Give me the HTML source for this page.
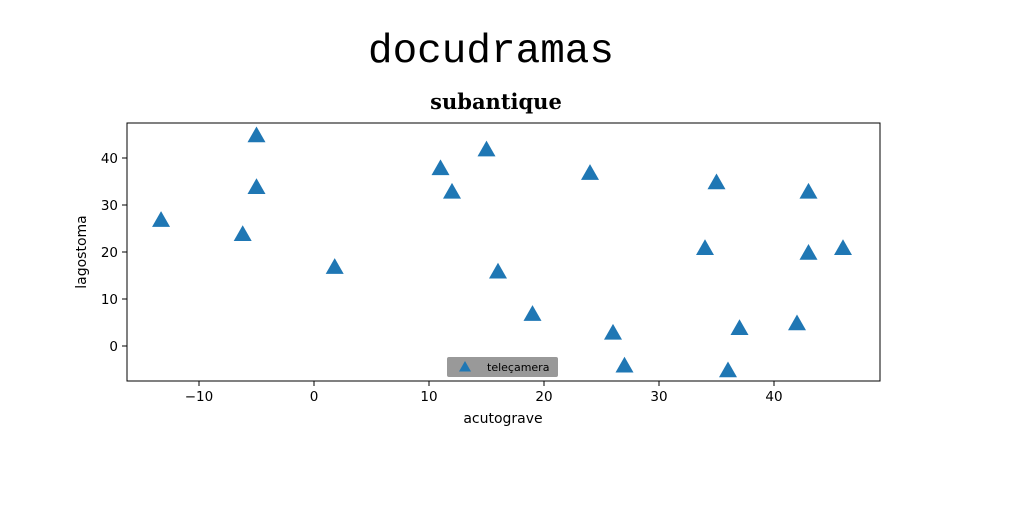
<!DOCTYPE html>
<html><head><meta charset="utf-8"><style>
body{margin:0;background:#fff;width:1024px;height:512px;overflow:hidden}
svg text{font-family:"DejaVu Sans","Liberation Sans",sans-serif}
</style></head><body>
<svg width="1024" height="512" xmlns="http://www.w3.org/2000/svg">
<text x="491" y="62" text-anchor="middle" font-size="41" style="font-family:'Liberation Mono',monospace">docudramas</text>
<text x="496" y="109" text-anchor="middle" font-size="21" font-weight="bold" style="font-family:'DejaVu Serif','Liberation Serif',serif">subantique</text>
<g id="plot"></g>
</svg>
<script>
const xs=[-13.3,-6.2,-5,-5,1.8,11,12,15,16,19,24,26,27,34,35,36,37,42,43,43,46];
const ys=[27,24,45,34,17,38,33,42,16,7,37,3,-4,21,35,-5,4,5,33,20,21];
const xTicks=[-10,0,10,20,30,40];
const yTicks=[0,10,20,30,40];
const L=127,R=880,T=123,B=381;
const xScale=v=>314+v*11.5;
const yScale=v=>346-v*4.7;
const NS="http://www.w3.org/2000/svg";
const g=document.getElementById('plot');
function mk(t,a){const e=document.createElementNS(NS,t);for(const k in a)e.setAttribute(k,a[k]);g.appendChild(e);return e;}
const frame=mk('rect',{x:L,y:T,width:R-L,height:B-T,fill:'none',stroke:'#000','stroke-width':1});


xTicks.forEach(v=>{const x=xScale(v);
 const l=mk('line',{x1:x,x2:x,y1:B,y2:B+5,stroke:'#000'});
 
 
 const t=mk('text',{x:x,y:B+20,'text-anchor':'middle','font-size':13.5});
 
 
 t.textContent=v<0?'\u2212'+(-v):v;});
yTicks.forEach(v=>{const y=yScale(v);
 const l=mk('line',{x1:L-5,x2:L,y1:y,y2:y,stroke:'#000'});
 
 
 const t=mk('text',{x:L-9,y:y+5,'text-anchor':'end','font-size':13.5});
 
 
 t.textContent=v;});
const xl=mk('text',{x:503,y:423,'text-anchor':'middle','font-size':14});


xl.textContent='acutograve';
const yl=mk('text',{x:86,y:252,'text-anchor':'middle','font-size':14,transform:'rotate(-90 86 252)'});


yl.textContent='lagostoma';
function tri(cx,cy,s){return `${cx},${cy-s} ${cx-s},${cy+s*0.75} ${cx+s},${cy+s*0.75}`;}
xs.forEach((v,i)=>{const p=mk('polygon',{points:tri(xScale(v),yScale(ys[i])+1,9),fill:'#1f77b4'});
 
 });
const lg=mk('rect',{x:447,y:357,width:111,height:20,rx:2,fill:'#999'});


const lm=mk('polygon',{points:tri(465,367,6),fill:'#1f77b4'});


const lt=mk('text',{x:487,y:371,'font-size':11});


lt.textContent='teleçamera';
</script>
</body></html>
